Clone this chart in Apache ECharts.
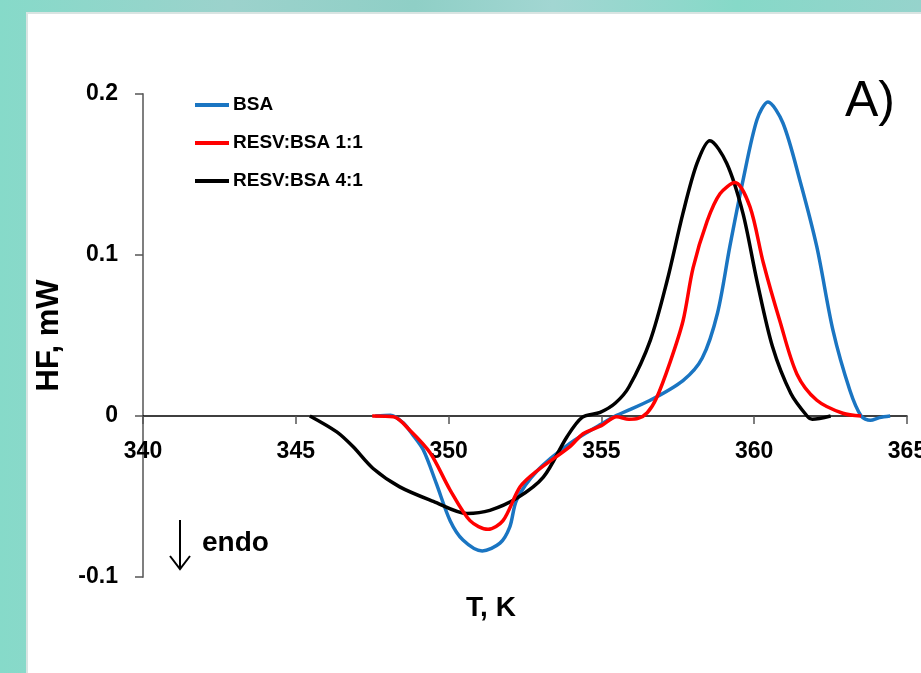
<!DOCTYPE html>
<html>
<head>
<meta charset="utf-8">
<script src="https://cdn.jsdelivr.net/npm/echarts@6/dist/echarts.min.js"></script>
<style>
  html, body { margin: 0; padding: 0; width: 921px; height: 673px; overflow: hidden; }
  body { background: linear-gradient(90deg, #86dac9 0%, #9cd2cc 25%, #8fcfc6 45%, #a2d6d2 60%, #86d9c8 80%, #96d3cc 100%); position: relative; }
  #panel { position: absolute; left: 26px; top: 12px; right: 0; bottom: 0; background: #fff; border-left: 2px solid #d9e4e2; border-top: 2px solid #d9e4e2; }
  #chart { position: absolute; left: 0; top: 0; width: 921px; height: 673px; }
</style>
</head>
<body>
<div id="panel"></div>
<div id="chart"></div>
<script>
// ---- data ----
const seriesNames = ['BSA', 'RESV:BSA 1:1', 'RESV:BSA 4:1'];

const bsaT  = [347.6, 348.1, 348.5, 348.8, 349.17, 349.6, 350.05, 350.47, 351.1, 351.68, 352.0, 352.23, 352.9, 353.97, 355.0, 355.5, 356.6, 357.67, 358.3, 358.8, 359.2, 359.63, 360.09, 360.45, 360.94, 361.5, 362.05, 362.58, 363.13, 363.5, 363.8, 364.1, 364.45];
const bsaHF = [0, 0.0005, -0.004, -0.011, -0.021, -0.042, -0.065, -0.077, -0.0838, -0.079, -0.069, -0.052, -0.034, -0.017, -0.005, 0.0004, 0.0098, 0.022, 0.036, 0.064, 0.105, 0.146, 0.184, 0.195, 0.182, 0.146, 0.105, 0.053, 0.016, 0.0, -0.0027, -0.001, 0.0];

const r11T  = [347.5, 348.2, 348.74, 349.4, 350.05, 350.7, 351.29, 351.78, 352.34, 352.9, 353.97, 354.4, 355.0, 355.5, 355.9, 356.2, 356.5, 356.8, 357.24, 357.67, 358.0, 358.46, 358.88, 359.37, 359.86, 360.3, 360.84, 361.4, 362.05, 362.9, 363.5];
const r11HF = [0, -0.0005, -0.009, -0.023, -0.046, -0.065, -0.0704, -0.065, -0.044, -0.034, -0.019, -0.011, -0.006, -0.0005, -0.002, -0.0015, 0.002, 0.011, 0.033, 0.059, 0.092, 0.121, 0.138, 0.145, 0.13, 0.095, 0.059, 0.026, 0.0098, 0.0017, 0];

const r41T  = [345.46, 346.34, 346.87, 347.53, 348.4, 349.5, 350.6, 351.35, 352.24, 353.1, 353.87, 354.37, 354.96, 355.45, 355.9, 356.6, 357.15, 357.67, 358.13, 358.55, 359.1, 359.63, 360.09, 360.6, 361.2, 361.73, 361.9, 362.5];
const r41HF = [0, -0.0099, -0.019, -0.0326, -0.044, -0.053, -0.0605, -0.0586, -0.051, -0.038, -0.013, -0.0008, 0.0023, 0.0079, 0.018, 0.047, 0.084, 0.126, 0.157, 0.171, 0.157, 0.126, 0.084, 0.043, 0.014, 0, -0.002, 0];

const xTicks = { min: 340, max: 365, interval: 5 };
const yTicks = { min: -0.1, max: 0.2, interval: 0.1 };

const colors = ['#1a75c2', '#ff0000', '#000000'];

function pairs(xs, ys) { return xs.map((x, i) => [x, ys[i]]); }
const datasets = [pairs(bsaT, bsaHF), pairs(r11T, r11HF), pairs(r41T, r41HF)];

const FONT = '"Liberation Sans", Arial, sans-serif';
const chart = echarts.init(document.getElementById('chart'), null, { renderer: 'canvas' });

const GRID = { left: 143, right: 14, top: 94, bottom: 96 };
const plotH = 673 - GRID.top - GRID.bottom;
// move the x axis (line, ticks, labels, name) up to the HF = 0 level
const zeroOffset = -plotH * (0 - yTicks.min) / (yTicks.max - yTicks.min);

chart.setOption({
  backgroundColor: 'transparent',
  animation: false,
  grid: Object.assign({ containLabel: false, outerBoundsMode: 'none' }, GRID),
  legend: {
    orient: 'vertical',
    left: 190,
    top: 90,
    icon: 'rect',
    itemWidth: 34,
    itemHeight: 4,
    itemGap: 18,
    textStyle: { fontFamily: FONT, fontWeight: 'bold', fontSize: 19, lineHeight: 20, color: '#000', padding: [0, 0, 0, -1] },
    data: seriesNames
  },
  xAxis: {
    type: 'value',
    min: xTicks.min, max: xTicks.max, interval: xTicks.interval,
    offset: zeroOffset,
    name: 'T, K',
    nameLocation: 'middle',
    nameGap: 178,
    nameTextStyle: { fontFamily: FONT, fontWeight: 'bold', fontSize: 28, color: '#000', padding: [0, 68, 0, 0], verticalAlign: 'top' },
    axisLine: { onZero: false, lineStyle: { color: '#000', width: 1.5 } },
    axisTick: { show: true, inside: false, length: 8, lineStyle: { color: '#555', width: 1.5 } },
    axisLabel: { margin: 24, fontFamily: FONT, fontWeight: 'bold', fontSize: 23, color: '#000' },
    splitLine: { show: false }
  },
  yAxis: {
    type: 'value',
    min: yTicks.min, max: yTicks.max, interval: yTicks.interval,
    name: 'HF, mW',
    nameLocation: 'middle',
    nameGap: 78,
    nameTextStyle: { fontFamily: FONT, fontWeight: 'bold', fontSize: 31, color: '#000' },
    axisLine: { show: true, lineStyle: { color: '#7f7f7f', width: 2 } },
    axisTick: { show: true, inside: false, length: 8, lineStyle: { color: '#555', width: 1.5 } },
    axisLabel: {
      margin: 25, fontFamily: FONT, fontWeight: 'bold', fontSize: 23, color: '#000',
      formatter: v => String(Math.round(v * 10) / 10)
    },
    splitLine: { show: false }
  },
  graphic: [
    { type: 'text', left: 845, top: 77, style: { text: 'A)', fontFamily: FONT, fontSize: 50, fill: '#000' } },
    { type: 'line', shape: { x1: 180, y1: 520, x2: 180, y2: 568 }, style: { stroke: '#000', lineWidth: 2 } },
    { type: 'polyline', shape: { points: [[170, 556], [180, 569], [190, 556]] }, style: { stroke: '#000', lineWidth: 2, fill: null } },
    { type: 'text', left: 202, top: 529, style: { text: 'endo', fontFamily: FONT, fontWeight: 'bold', fontSize: 28, fill: '#000' } }
  ],
  series: seriesNames.map((n, i) => ({
    name: n,
    type: 'line',
    data: datasets[i],
    smooth: 0.3,
    showSymbol: false,
    symbol: 'none',
    color: colors[i],
    lineStyle: { color: colors[i], width: 3.5 },
    z: 3 + (i === 1 ? 1 : 0)
  }))
});
</script>
</body>
</html>
